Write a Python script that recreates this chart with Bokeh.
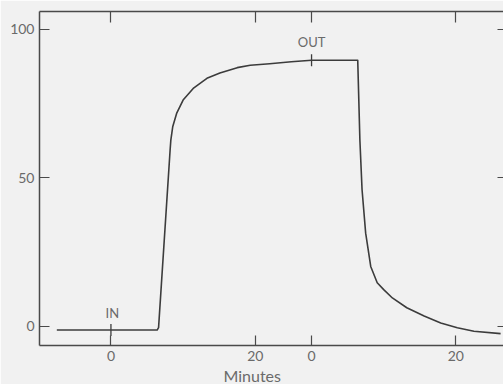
import numpy as np
from bokeh.plotting import figure
from bokeh.models import (Range1d, FixedTicker, LinearAxis, CustomJSTickFormatter, Label, Title)
from bokeh.embed import file_html
from bokeh.resources import INLINE

# Response while the sample is in: minutes after "IN", reading in %
t_in = [-7.5, 6.4, 6.6, 8.2, 8.3, 8.56, 9.1, 10.0, 11.4, 13.3, 15.1, 17.5, 19.3, 22.0, 25.0, 27.8]
v_in = [-1.2, -1.2, -0.4, 59.4, 62.7, 67.2, 71.7, 76.2, 80.1, 83.5, 85.3, 87.1, 87.9, 88.4, 89.1, 89.6]

# Response after the sample is taken out: minutes after "OUT", reading in %
t_out = [0.0, 6.4, 6.7, 7.0, 7.5, 8.2, 9.1, 10.0, 11.2, 13.2, 15.6, 17.9, 20.2, 22.5, 26.2]
v_out = [89.6, 89.6, 62.7, 46.0, 31.4, 20.2, 14.7, 12.4, 9.6, 6.3, 3.5, 1.2, -0.4, -1.6, -2.4]

# The "OUT" clock starts this many minutes after the "IN" clock
OUT_AT = 27.8

x_ticks = [0, 20, OUT_AT, OUT_AT + 20]
y_ticks = [0, 50, 100]

BG = "#f1f1f1"
INK = "#3c3c3c"
AXIS = "#4a4a4a"
TXT = "#6a6a6a"
FONT = "Lato"

p = figure(width=503, height=384, output_backend="svg", toolbar_location=None,
           x_range=Range1d(-9.9, 54.4), y_range=Range1d(-6.4, 106.0),
           min_border_left=39, min_border_right=0, min_border_top=11, min_border_bottom=0,
           x_axis_location=None, y_axis_location=None)
p.background_fill_color = BG
p.border_fill_color = BG
p.outline_line_color = None
p.xgrid.visible = False
p.ygrid.visible = False

fmt = CustomJSTickFormatter(args=dict(out_at=OUT_AT),
                            code="return (tick >= out_at - 1e-6 ? tick - out_at : tick).toFixed(0);")
blank = CustomJSTickFormatter(code="return '';")

def style_axis(ax, tick_in, show_line=True):
    ax.major_tick_in = tick_in
    ax.major_tick_out = 0
    ax.minor_tick_in = 0
    ax.minor_tick_out = 0
    ax.major_tick_line_color = AXIS
    ax.major_tick_line_width = 1.2
    ax.axis_line_color = AXIS if show_line else None
    ax.axis_line_width = 1.5
    ax.major_label_text_font = FONT
    ax.major_label_text_font_size = "14px"
    ax.major_label_text_color = TXT
    ax.major_label_standoff = 5

bottom = LinearAxis(ticker=FixedTicker(ticks=x_ticks), formatter=fmt)
style_axis(bottom, 10)
p.add_layout(bottom, "below")

top = LinearAxis(ticker=FixedTicker(ticks=x_ticks), formatter=blank)
style_axis(top, 11)
top.major_label_standoff = 0
p.add_layout(top, "above")

left = LinearAxis(ticker=FixedTicker(ticks=y_ticks))
style_axis(left, 10)
p.add_layout(left, "left")

right = LinearAxis(ticker=FixedTicker(ticks=y_ticks), formatter=blank)
style_axis(right, 6, show_line=False)
right.major_label_standoff = 0
p.add_layout(right, "right")

# Axis title under the time axis
p.add_layout(Title(text="Minutes", align="left", offset=184, standoff=0,
                   text_font=FONT, text_font_size="16px", text_font_style="normal",
                   text_color=TXT), "below")

# Recorder trace
x_all = list(t_in) + [t + OUT_AT for t in t_out[1:]]
y_all = list(v_in) + list(v_out[1:])
p.line(x_all, y_all, line_color=INK, line_width=1.6, line_join="round")

# Event marks across the trace
y_in_mark = float(np.interp(0.0, t_in, v_in))
y_out_mark = float(np.interp(0.0, t_out, v_out))
p.scatter([0.0, OUT_AT], [y_in_mark, y_out_mark], marker="dash", angle=np.pi / 2,
          size=12, line_color=INK, line_width=1.3)

p.add_layout(Label(x=0.2, y=y_in_mark + 5.9, text="IN", text_align="center",
                   text_baseline="middle", text_font=FONT, text_font_size="13px",
                   text_color=TXT))
p.add_layout(Label(x=OUT_AT, y=95.6, text="OUT", text_align="center",
                   text_baseline="middle", text_font=FONT, text_font_size="13px",
                   text_color=TXT))

open("out.html", "w").write(file_html(p, INLINE))
